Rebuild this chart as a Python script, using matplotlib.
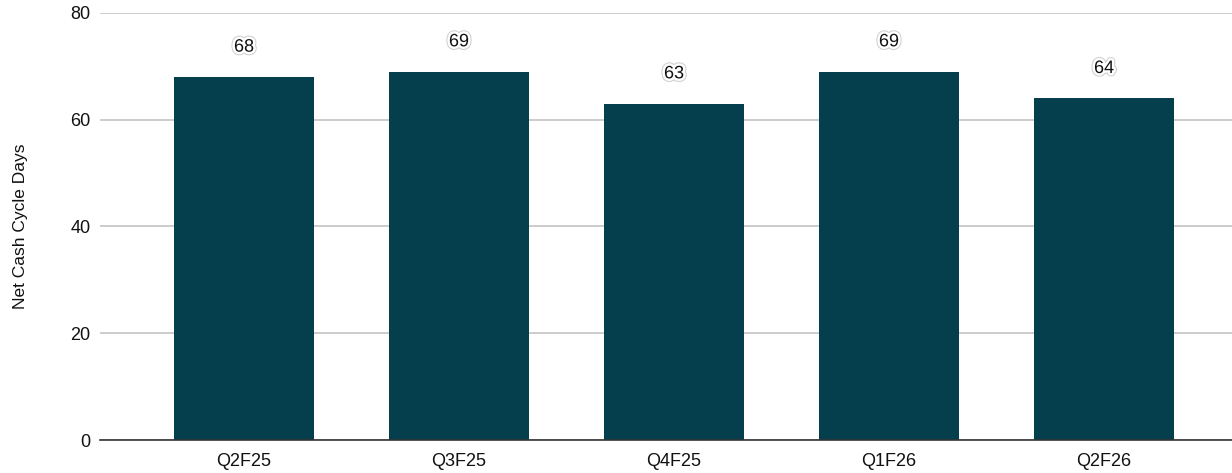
import matplotlib
matplotlib.use("Agg")
import matplotlib.pyplot as plt
import matplotlib.patheffects as pe

categories = ["Q2F25", "Q3F25", "Q4F25", "Q1F26", "Q2F26"]
values = [68, 69, 63, 69, 64]
yticks = [0, 20, 40, 60, 80]

plt.rcParams['font.family'] = ['Liberation Sans', 'DejaVu Sans']

fig = plt.figure(figsize=(12.32, 4.73), dpi=100)
ax = fig.add_axes([100/1232, 33/473, 1132/1232, 427/473])

x = list(range(len(categories)))
ax.bar(x, values, width=0.65, color="#053F4E", zorder=3)

for xi, v in zip(x, values):
    ax.text(xi, v + 5.6, str(v), ha='center', va='center', fontsize=13, color='#111111', zorder=4,
            path_effects=[pe.withStroke(linewidth=5, foreground='#d0d0d0'),
                          pe.withStroke(linewidth=3.5, foreground='white')])

ax.set_xlim(-0.67, 4.595)
ax.set_ylim(0, 80)
ax.set_yticks(yticks)
ax.set_xticks(x)
ax.set_xticklabels(categories)
ax.tick_params(axis='both', length=0, labelsize=13, colors='#111111')
ax.tick_params(axis='y', pad=7)
ax.tick_params(axis='x', pad=9)
ax.grid(axis='y', color='#c8c8c8', linewidth=1.3, zorder=0)
for s in ['top', 'right', 'left']:
    ax.spines[s].set_visible(False)
ax.spines['bottom'].set_color('#333333')
ax.spines['bottom'].set_linewidth(1.2)
ax.spines['bottom'].set_zorder(5)
ax.set_ylabel("Net Cash Cycle Days", fontsize=12.5, color='#111111')
ax.yaxis.set_label_coords(-72/1132, 0.5)

fig.savefig("out.png", dpi=100)
